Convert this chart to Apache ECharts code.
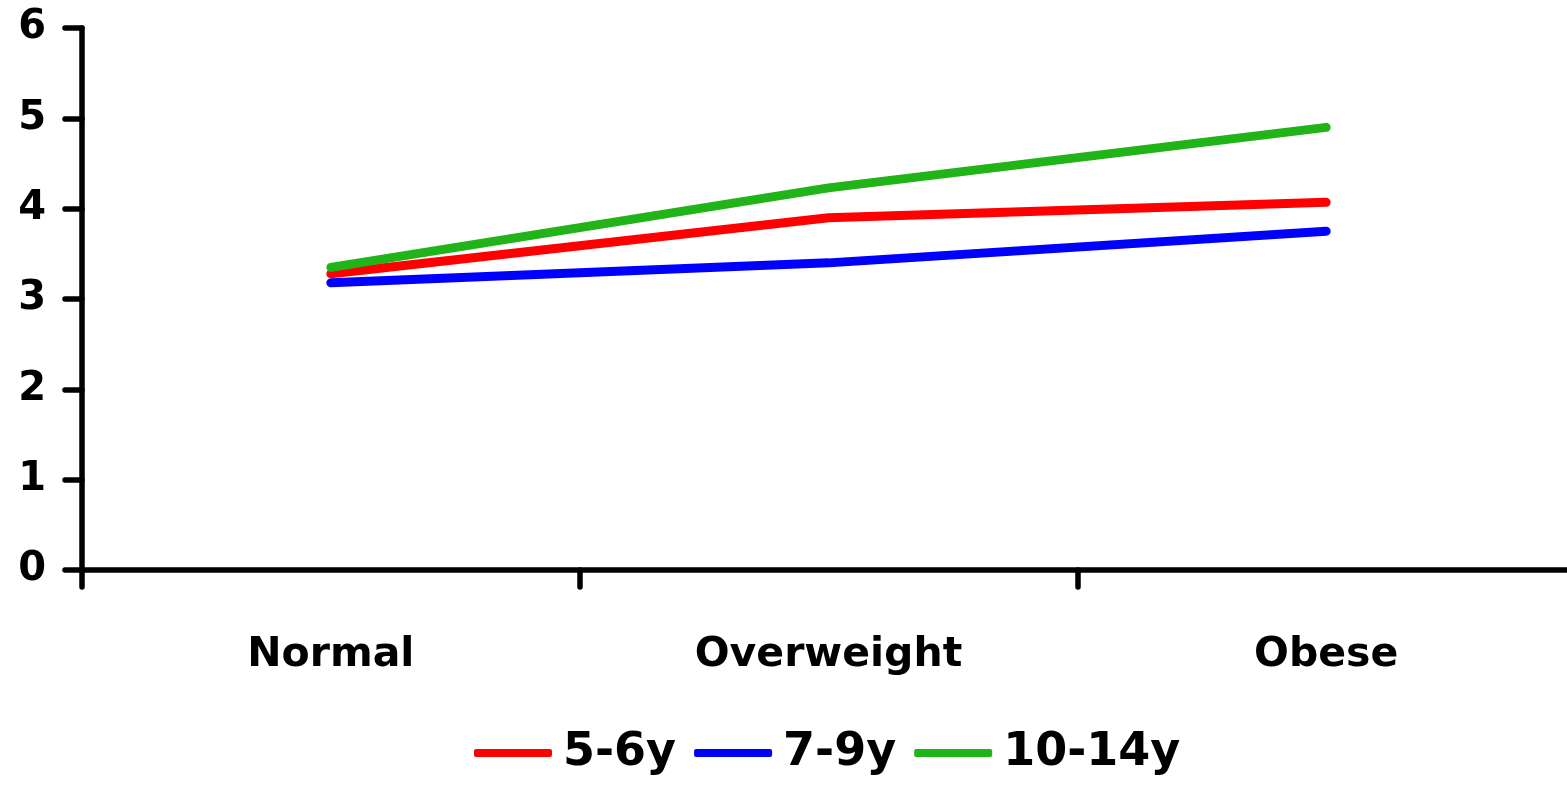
<!DOCTYPE html>
<html>
<head>
<meta charset="utf-8">
<script src="https://cdn.jsdelivr.net/npm/echarts@6/dist/echarts.min.js"></script>
<style>
  html, body { margin: 0; padding: 0; background: #fff; overflow: hidden; }
  /* the plot's x axis runs a few pixels past the right edge of the page */
  #chart { width: 1575px; height: 791px; }
</style>
</head>
<body>
<div id="chart"></div>
<script>
// BMI groups along the x axis
const categories = ['Normal', 'Overweight', 'Obese'];

// Age-group series
const age5to6 = [3.28, 3.90, 4.07];
const age7to9 = [3.18, 3.40, 3.75];
const age10to14 = [3.35, 4.23, 4.90];

const seriesNames = ['5-6y', '7-9y', '10-14y'];
const seriesColors = ['#ff0000', '#0000ff', '#20b418'];
const seriesValues = [age5to6, age7to9, age10to14];

const FONT = '"DejaVu Sans", Verdana, sans-serif';

const chart = echarts.init(document.getElementById('chart'), null, { renderer: 'canvas' });

const axisLineStyle = { color: '#000', width: 5.5, cap: 'round' };

chart.setOption({
  animation: false,
  backgroundColor: '#fff',
  grid: { left: 82, right: 0, top: 28, bottom: 221, containLabel: false },
  legend: {
    bottom: 15,
    left: 474,
    padding: 0,
    icon: 'roundRect',
    itemWidth: 78,
    itemHeight: 8,
    itemGap: 18,
    textStyle: {
      fontFamily: FONT,
      fontWeight: 'bold',
      fontSize: 46,
      color: '#000',
      padding: [0, 0, 0, 6]
    },
    data: seriesNames
  },
  xAxis: {
    type: 'category',
    data: categories,
    boundaryGap: true,
    axisLine: { lineStyle: axisLineStyle },
    axisTick: { show: true, length: 17, interval: 0, lineStyle: axisLineStyle },
    axisLabel: {
      margin: 65,
      fontFamily: FONT,
      fontWeight: 'bold',
      fontSize: 41,
      color: '#000'
    },
    splitLine: { show: false }
  },
  yAxis: {
    type: 'value',
    min: 0,
    max: 6,
    interval: 1,
    axisLine: { show: true, lineStyle: axisLineStyle },
    axisTick: { show: true, length: 17, lineStyle: axisLineStyle },
    axisLabel: {
      margin: 36,
      padding: [8, 0, 0, 0],
      fontFamily: FONT,
      fontWeight: 'bold',
      fontSize: 40,
      color: '#000'
    },
    splitLine: { show: false }
  },
  series: seriesNames.map((name, i) => ({
    name: name,
    type: 'line',
    data: seriesValues[i],
    symbol: 'none',
    color: seriesColors[i],
    lineStyle: { width: 9, color: seriesColors[i], cap: 'round', join: 'round' },
    z: 3 + (i === 1 ? 0 : i === 0 ? 1 : 2)
  }))
});
</script>
</body>
</html>
